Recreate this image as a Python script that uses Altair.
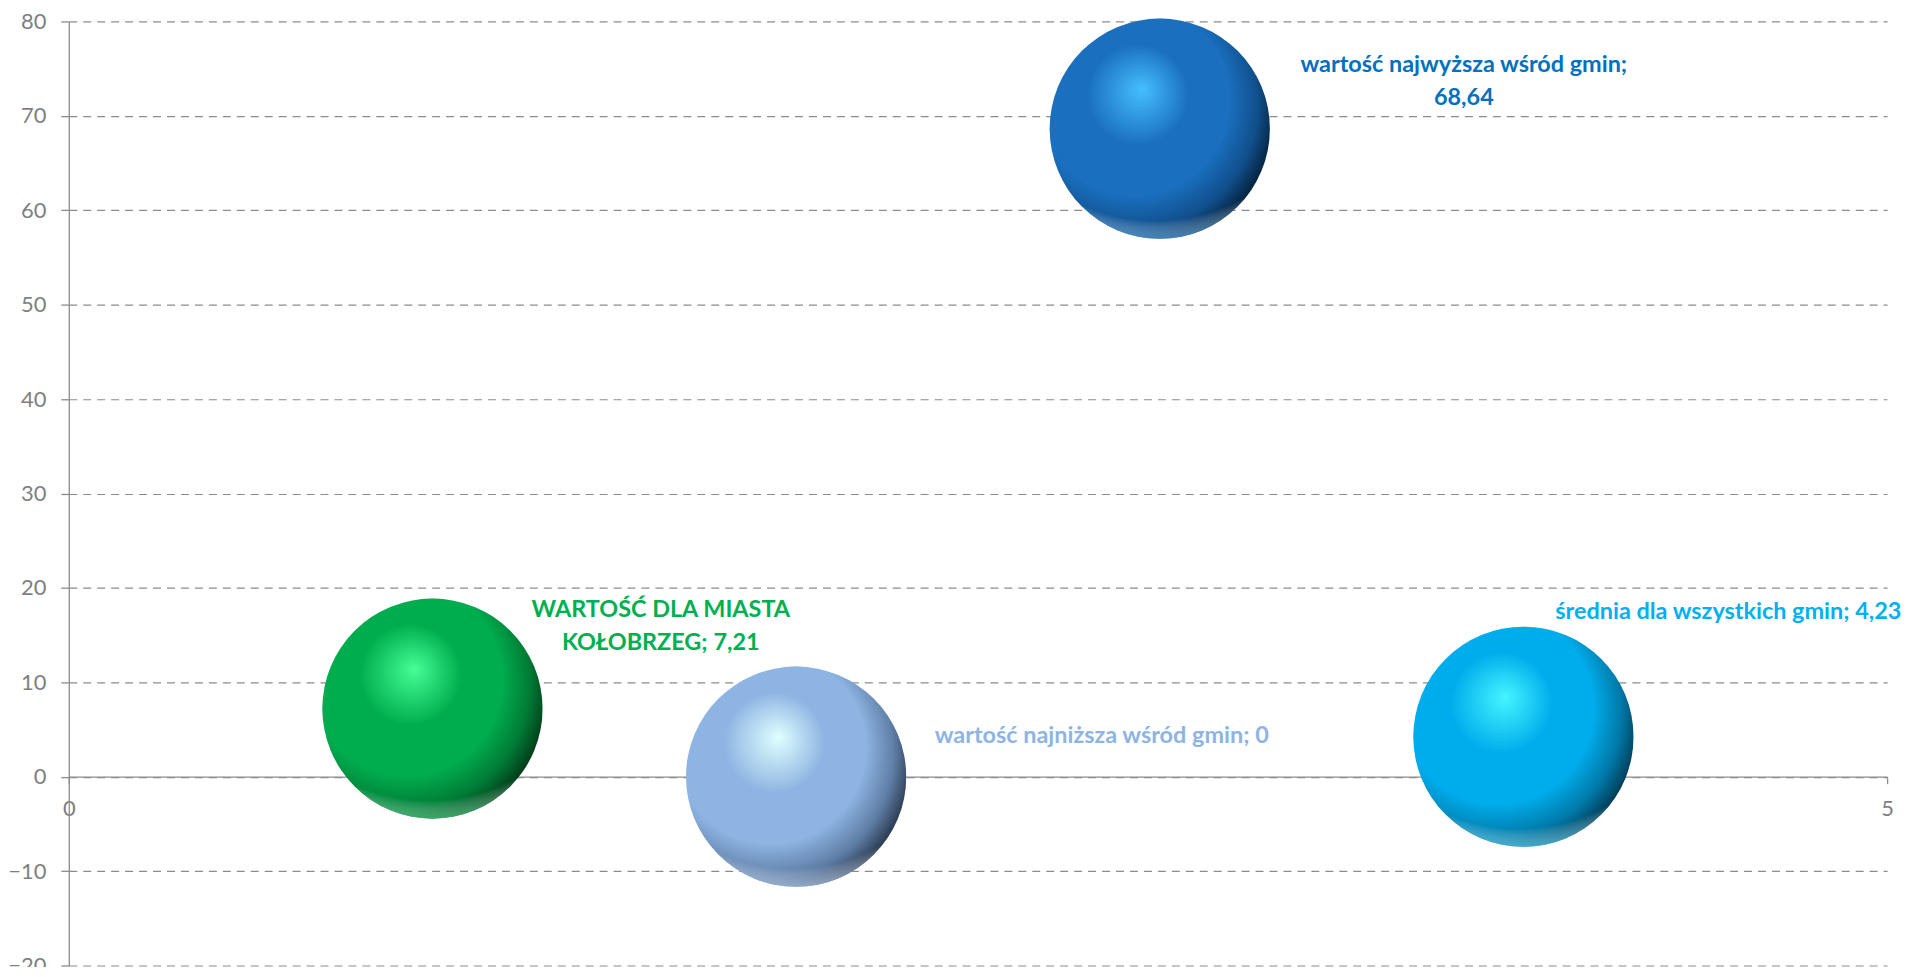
import altair as alt
import pandas as pd

categories = ["WARTOŚĆ DLA MIASTA KOŁOBRZEG", "wartość najniższa wśród gmin",
              "wartość najwyższa wśród gmin", "średnia dla wszystkich gmin"]
x_pos = [1, 2, 3, 4]
values = [7.21, 0.0, 68.64, 4.23]
bubble_size = [1, 1, 1, 1]
labels = ["WARTOŚĆ DLA MIASTA\nKOŁOBRZEG; 7,21",
          "wartość najniższa wśród gmin; 0",
          "wartość najwyższa wśród gmin;\n68,64",
          "średnia dla wszystkich gmin; 4,23"]
y_ticks = [-20, -10, 0, 10, 20, 30, 40, 50, 60, 70, 80]
x_ticks = [0, 5]

df = pd.DataFrame({"cat": categories, "x": x_pos, "y": values,
                   "s": bubble_size, "label": labels})

# styling per series: (highlight, base, shade, dark, rim, label colour, dx, dy, align)
styles = [
    ("#45ff95", "#00ad4e", "#007a35", "#002a10", "#33d070", "#00b050", 229, -99, "center"),
    ("#e0ffff", "#8db4e2", "#5f7ea6", "#1c2838", "#b0d4ff", "#8db4e2", 139, -41, "left"),
    ("#45bfff", "#1a6fbf", "#114f8c", "#001628", "#3aa0f0", "#0070c0", 305, -64, "center"),
    ("#45f5ff", "#00adec", "#0079a8", "#002c40", "#40d8ff", "#00b0f0", 32, -125, "left"),
]

xscale = alt.Scale(domain=[0, 5], nice=False, zero=False)
yscale = alt.Scale(domain=[-20, 80], nice=False, zero=False)

FONT = "Lato"
GRID = "#8c8c8c"

base = alt.Chart(df)

axes_layer = base.mark_point(opacity=0).encode(
    x=alt.X("x:Q", scale=xscale, title=None,
            axis=alt.Axis(values=x_ticks, grid=False, offset=-189.4, format="d",
                          domainColor=GRID, domainWidth=1.3,
                          tickColor=GRID, tickSize=7, tickWidth=1.3,
                          labelColor="#7f7f7f", labelFont=FONT, labelFontSize=22,
                          labelPadding=15, labelFlush=False)),
    y=alt.Y("y:Q", scale=yscale, title=None,
            axis=alt.Axis(values=y_ticks, grid=True, gridColor=GRID,
                          gridDash=[8, 6], gridWidth=1.2,
                          domainColor=GRID, domainWidth=1.3,
                          tickColor=GRID, tickSize=8, tickWidth=1.3,
                          labelColor="#7f7f7f", labelFont=FONT, labelFontSize=22,
                          labelPadding=15, labelFlush=False)),
)

layers = [axes_layer]
for i, (hi, mid, shade, dark, rim, lc, dx, dy, al) in enumerate(styles):
    sub = base.transform_filter(alt.datum.cat == categories[i])
    grad = alt.RadialGradient(
        gradient="radial", x1=0.42, y1=0.32, r1=0.0, x2=0.36, y2=0.4, r2=0.7,
        stops=[alt.GradientStop(offset=0.0, color=hi),
               alt.GradientStop(offset=0.33, color=mid),
               alt.GradientStop(offset=0.62, color=mid),
               alt.GradientStop(offset=0.82, color=shade),
               alt.GradientStop(offset=1.0, color=dark)])
    rimgrad = alt.RadialGradient(
        gradient="radial", x1=0.48, y1=0.1, r1=0.0, x2=0.48, y2=0.1, r2=0.95,
        stops=[alt.GradientStop(offset=0.0, color="rgba(255,255,255,0)"),
               alt.GradientStop(offset=0.86, color="rgba(255,255,255,0)"),
               alt.GradientStop(offset=0.97, color=rim)])
    enc = dict(x=alt.X("x:Q", scale=xscale), y=alt.Y("y:Q", scale=yscale))
    bub = sub.mark_circle(fill=grad, opacity=1, size=48800).encode(**enc)
    rimc = sub.mark_circle(fill=rimgrad, opacity=0.75, size=48800).encode(**enc)
    txt = sub.mark_text(font=FONT, fontSize=23.5, fontWeight="bold", color=lc,
                        align=al, baseline="middle", dx=dx, dy=dy,
                        lineBreak="\n", lineHeight=33).encode(
        text="label:N", **enc)
    layers += [bub, rimc, txt]

chart = alt.layer(*layers).properties(
    width=1824, height=947,
    autosize=alt.AutoSizeParams(type="none"),
    padding={"left": 61, "top": 12, "right": 30, "bottom": 0},
).configure_view(stroke=None)

chart.save("out.html", embed_options={"renderer": "svg", "actions": False})
